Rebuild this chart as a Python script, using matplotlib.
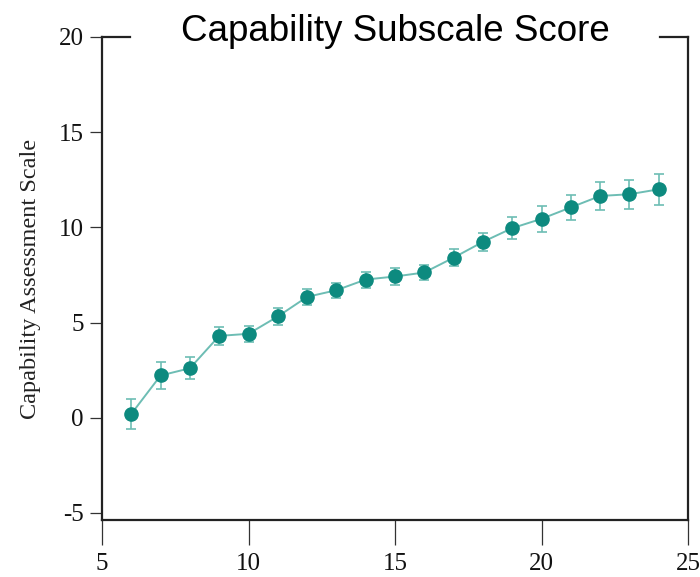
import matplotlib
matplotlib.use("Agg")
import matplotlib.pyplot as plt
import numpy as np

plt.rcParams["axes.unicode_minus"] = False

# values
weeks = [6, 7, 8, 9, 10, 11, 12, 13, 14, 15, 16, 17, 18, 19, 20, 21, 22, 23, 24]
score = [0.2, 2.22, 2.6, 4.3, 4.41, 5.32, 6.35, 6.7, 7.26, 7.42,
         7.63, 8.41, 9.24, 9.96, 10.45, 11.05, 11.65, 11.74, 12.0]
score_err = [0.8, 0.72, 0.58, 0.47, 0.42, 0.46, 0.41, 0.39, 0.42, 0.44,
             0.39, 0.43, 0.46, 0.56, 0.68, 0.65, 0.74, 0.76, 0.8]

x_ticks = [5, 10, 15, 20, 25]
y_ticks = [-5, 0, 5, 10, 15, 20]

MARKER_COLOR = "#0d8a7f"
LINE_COLOR = "#6dbdb4"

fig = plt.figure(figsize=(7.0, 5.77), dpi=100)
ax = fig.add_axes([0.1457, 0.0988, 0.8373, 0.8371])

ax.errorbar(
    weeks,
    score,
    yerr=score_err,
    fmt="-",
    color=LINE_COLOR,
    linewidth=1.4,
    elinewidth=1.2,
    capsize=3.5,
    capthick=1.2,
    zorder=2,
)
ax.plot(weeks, score, "o", color=MARKER_COLOR, markersize=9.5, zorder=3)

ax.set_xlim(5, 25)
ax.set_ylim(-5.37, 20)
ax.set_xticks(x_ticks)
ax.set_yticks(y_ticks)

serif = ["Liberation Serif", "DejaVu Serif"]
for lab in ax.get_xticklabels() + ax.get_yticklabels():
    lab.set_family(serif)
    lab.set_fontsize(18)

ax.tick_params(axis="x", direction="out", length=18, width=0.9, pad=6, colors="#333333", labelcolor="#111111")
ax.tick_params(axis="y", direction="out", length=9, width=0.9, pad=4, colors="#333333", labelcolor="#111111")

for side in ["left", "right", "bottom"]:
    ax.spines[side].set_linewidth(1.6)
    ax.spines[side].set_color("#222222")
ax.spines["top"].set_visible(False)

# top border with a gap where the title sits
for seg in ([0.0, 0.048], [0.952, 1.0]):
    ax.plot(seg, [1, 1], transform=ax.transAxes, color="#222222",
            linewidth=1.6, clip_on=False, solid_capstyle="projecting")

ax.set_ylabel("Capability Assessment Scale", family=serif, fontsize=17.5,
              labelpad=13, color="#222222")

ax.text(0.5, 1.0 + 5 / 483, "Capability Subscale Score", transform=ax.transAxes,
        ha="center", va="center", fontsize=26.5,
        family=["Liberation Sans", "DejaVu Sans"])

fig.savefig("out.png", dpi=100)
